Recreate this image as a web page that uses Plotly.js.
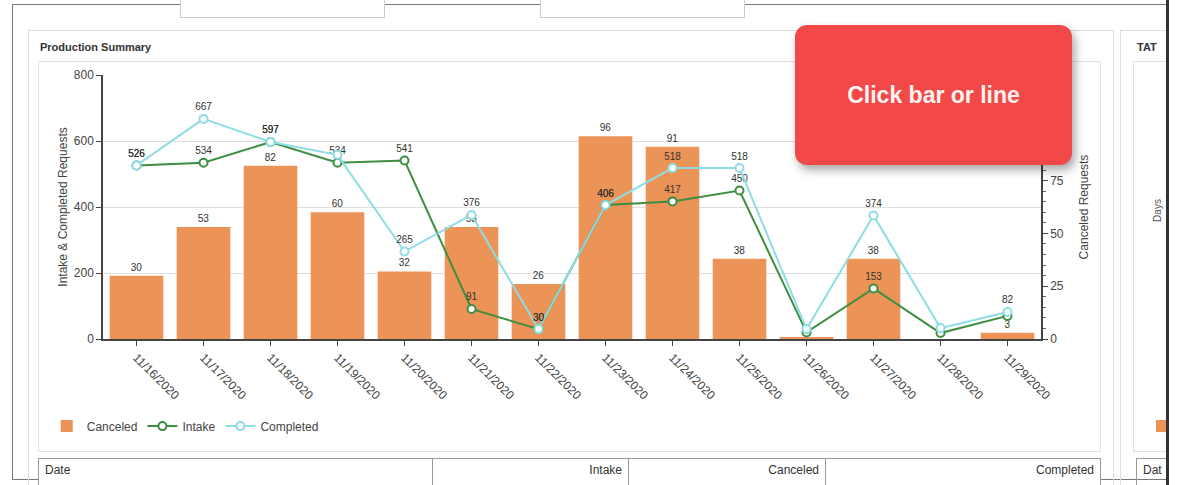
<!DOCTYPE html>
<html>
<head>
<meta charset="utf-8">
<script src="https://cdn.plot.ly/plotly-3.0.1.min.js"></script>
<style>
  html, body { margin:0; padding:0; background:#fff; width:1180px; height:485px; overflow:hidden;
    font-family:"Liberation Sans", Arial, sans-serif; }
  .abs { position:absolute; box-sizing:border-box; }
  #chart { position:absolute; left:0; top:0; width:1180px; height:485px; }
  .cell { position:absolute; top:0; height:100%; font-size:12px; color:#333; padding:4px 6px; box-sizing:border-box; border-right:1px solid #999; }
</style>
</head>
<body>
<!-- page frame / decorations -->
<div class="abs" style="left:12px;top:4px;width:1156px;height:476px;border:1px solid #777;"></div>
<div class="abs" style="left:180px;top:-2px;width:205px;height:20px;border:1px solid #ccc;background:#fff;"></div>
<div class="abs" style="left:540px;top:-2px;width:205px;height:20px;border:1px solid #ccc;background:#fff;"></div>
<div class="abs" style="left:28px;top:30px;width:1086px;height:470px;border:1px solid #ddd;"></div>
<div class="abs" style="left:40px;top:41px;font-size:11px;font-weight:bold;color:#333;">Production Summary</div>
<div class="abs" style="left:38px;top:61px;width:1063px;height:391px;border:1px solid #e2e2e2;"></div>
<div class="abs" style="left:38px;top:458px;width:1063px;height:40px;border:1px solid #999;background:#fff;">
  <div class="cell" style="left:0;width:394px;">Date</div>
  <div class="cell" style="left:394px;width:196px;text-align:right;">Intake</div>
  <div class="cell" style="left:590px;width:197px;text-align:right;">Canceled</div>
  <div class="cell" style="left:787px;width:274px;text-align:right;border-right:none;">Completed</div>
</div>
<div class="abs" style="left:1120px;top:30px;width:60px;height:470px;border:1px solid #ddd;"></div>
<div class="abs" style="left:1137px;top:41px;font-size:11px;font-weight:bold;color:#333;">TAT</div>
<div class="abs" style="left:1133px;top:61px;width:60px;height:391px;border:1px solid #e2e2e2;"></div>
<div class="abs" style="left:1146px;top:205px;font-size:10px;color:#555;transform:rotate(-90deg);">Days</div>
<div class="abs" style="left:1156px;top:420px;width:12px;height:12px;background:#EC9357;"></div>
<div class="abs" style="left:1136px;top:458px;width:50px;height:40px;border:1px solid #999;font-size:12px;color:#333;padding:4px 6px;">Dat</div>
<div class="abs" style="left:1166px;top:0;width:14px;height:485px;background:#fff;border-left:3px solid #333;"></div>

<div id="chart"></div>

<div class="abs" style="left:795px;top:25px;width:277px;height:140px;background:#F24848;border-radius:12px;
  box-shadow:3px 5px 10px rgba(0,0,0,0.35);color:#fff4f0;font-weight:bold;font-size:23px;
  display:flex;align-items:center;justify-content:center;font-family:'Liberation Sans', Arial, sans-serif;">Click bar or line</div>

<script>
const dates = ["11/16/2020","11/17/2020","11/18/2020","11/19/2020","11/20/2020","11/21/2020","11/22/2020",
               "11/23/2020","11/24/2020","11/25/2020","11/26/2020","11/27/2020","11/28/2020","11/29/2020"];
const canceled  = [30, 53, 82, 60, 32, 53, 26, 96, 91, 38, 1, 38, 0, 3];
const intake    = [526, 534, 597, 534, 541, 91, 30, 406, 417, 450, 20, 153, 18, 70];
const completed = [526, 667, 597, 558, 265, 376, 30, 406, 518, 518, 30, 374, 33, 82];
// dates whose data labels are not visible in the reference (overlapped)
const hiddenBarLabels = ["11/26/2020", "11/28/2020"];
const hiddenIntakeLabels = ["11/26/2020", "11/28/2020", "11/29/2020"];
const hiddenCompletedLabels = ["11/19/2020", "11/26/2020", "11/28/2020"];

const labelsFor = (vals, hidden) => vals.map((v, i) => hidden.includes(dates[i]) ? "" : String(v));

const FONT = "Liberation Sans, Arial, sans-serif";
const traces = [
  {
    type: "bar", name: "Canceled", x: dates, y: canceled, yaxis: "y",
    marker: { color: "#EC9357" },
    text: labelsFor(canceled, hiddenBarLabels), textposition: "outside",
    textfont: { size: 10, color: "#333", family: FONT }, cliponaxis: false,
    hoverinfo: "x+y"
  },
  {
    type: "scatter", mode: "lines+markers+text", name: "Intake", x: dates, y: intake, yaxis: "y2",
    line: { color: "#3E8E41", width: 2 },
    marker: { symbol: "circle", size: 8, color: "#ffffff", line: { color: "#3E8E41", width: 2 } },
    text: labelsFor(intake, hiddenIntakeLabels), textposition: "top center",
    textfont: { size: 10, color: "#333", family: FONT }, cliponaxis: false
  },
  {
    type: "scatter", mode: "lines+markers+text", name: "Completed", x: dates, y: completed, yaxis: "y2",
    line: { color: "#8EDCE4", width: 2 },
    marker: { symbol: "circle", size: 8, color: "#ffffff", line: { color: "#8EDCE4", width: 2 } },
    text: labelsFor(completed, hiddenCompletedLabels), textposition: "top center",
    textfont: { size: 10, color: "#333", family: FONT }, cliponaxis: false
  }
];

const layout = {
  width: 1180, height: 485,
  margin: { l: 103, r: 139, t: 75, b: 146, pad: 0 },
  paper_bgcolor: "rgba(0,0,0,0)", plot_bgcolor: "rgba(0,0,0,0)",
  font: { family: FONT, size: 12, color: "#444" },
  bargap: 0.2,
  showlegend: true,
  legend: { orientation: "h", x: -0.06, xanchor: "left", y: -0.33, yanchor: "middle",
            font: { size: 12, color: "#444" }, bgcolor: "rgba(0,0,0,0)", traceorder: "normal" },
  xaxis: {
    type: "category", range: [-0.5, 13.5], autorange: false,
    tickangle: 45, ticks: "outside", ticklen: 5, tickcolor: "#444",
    showline: true, linecolor: "#444", linewidth: 1.5, showgrid: false,
    tickfont: { size: 12, color: "#444" }
  },
  yaxis: {
    side: "right", range: [0, 125], autorange: false, tickmode: "linear", tick0: 0, dtick: 25,
    ticks: "outside", ticklen: 5, tickcolor: "#444", showline: true, linecolor: "#444", linewidth: 1.5,
    showgrid: false, zeroline: false,
    minor: { tickmode: "linear", tick0: 0, dtick: 5, ticks: "outside", ticklen: 3, tickcolor: "#666", showgrid: false },
    title: { text: "Canceled Requests", font: { size: 12, color: "#444" }, standoff: 10 },
    tickfont: { size: 12, color: "#444" }
  },
  yaxis2: {
    overlaying: "y", side: "left", range: [0, 800], autorange: false, tickmode: "linear", tick0: 0, dtick: 200,
    ticks: "outside", ticklen: 5, tickcolor: "#444", showline: true, linecolor: "#444", linewidth: 1.5,
    showgrid: true, gridcolor: "#dedede", gridwidth: 1, zeroline: false,
    title: { text: "Intake & Completed Requests", font: { size: 12, color: "#444" }, standoff: 4 },
    tickfont: { size: 12, color: "#444" }
  }
};

Plotly.newPlot("chart", traces, layout, { displayModeBar: false });
</script>
</body>
</html>
